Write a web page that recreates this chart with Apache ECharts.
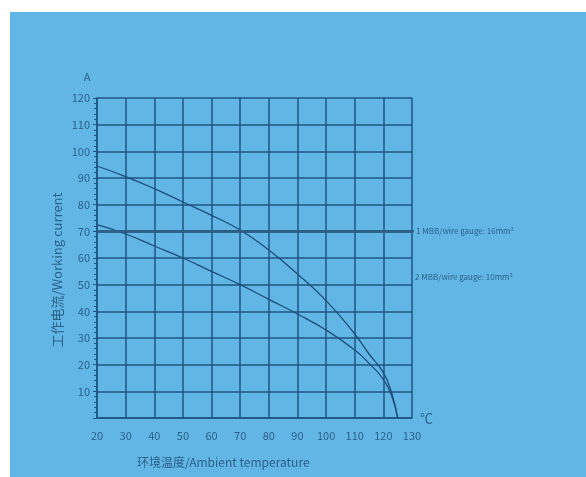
<!DOCTYPE html>
<html><head><meta charset="utf-8">
<script src="https://cdn.jsdelivr.net/npm/echarts@6/dist/echarts.min.js"></script>
<style>html,body{margin:0;padding:0;background:#fff}#c{width:586px;height:477px}</style>
</head><body><div id="c"></div>
<script>
// Data
var tempUpper = [20, 30, 40, 50, 60, 70, 80, 90, 100, 110, 115, 120, 123, 125];
var currUpper = [94.5, 90.5, 86, 81, 76, 70.5, 63, 54, 44, 31.5, 24, 17, 9, 0];
var tempLower = [20, 30, 40, 50, 60, 70, 80, 90, 100, 110, 115, 120, 123, 125];
var currLower = [72.5, 69, 64.5, 60, 55, 50, 44.5, 39, 33, 25.5, 20.5, 14.5, 8, 0];
var refTemps = [20, 132.5];
var refCurrent16 = 70;
var refTemps10 = [130, 132.5];
var refCurrent10 = 53;
var label16 = '1 MBB/wire gauge: 16mm²';
var label10 = '2 MBB/wire gauge: 10mm²';
var xName = '环境温度/Ambient temperature';
var yName = '工作电流/Working current';

function pairs(xs, ys) { return xs.map(function (x, i) { return [x, ys[i]]; }); }

var gridColor = '#1f5480';
var textColor = '#2b5f86';
var chart = echarts.init(document.getElementById('c'), null, {renderer: 'canvas'});
chart.setOption({
  backgroundColor: '#ffffff',
  animation: false,
  graphic: [
    {type: 'rect', left: 10, top: 12, shape: {width: 576, height: 465}, style: {fill: '#62b6e6'}, z: -10},
    {type: 'text', left: 137, top: 456, style: {text: xName, fill: textColor, font: '12px "Noto Sans CJK SC"'}},
    {type: 'text', x: 57, y: 270, rotation: Math.PI / 2, style: {text: yName, fill: textColor, font: '13px "Noto Sans CJK SC"', align: 'center', verticalAlign: 'middle'}}
  ],
  grid: {left: 97, top: 98, right: 174, bottom: 59, containLabel: false},
  xAxis: {
    type: 'value', min: 20, max: 130, interval: 10,
    name: '℃', nameLocation: 'end', nameGap: 8,
    nameTextStyle: {color: textColor, fontSize: 13, fontFamily: 'Noto Sans CJK SC'},
    axisLine: {show: true, lineStyle: {color: gridColor, width: 1.5}},
    axisTick: {show: false},
    axisLabel: {color: textColor, fontSize: 11, margin: 12, fontFamily: 'Noto Sans CJK SC'},
    splitLine: {show: true, lineStyle: {color: gridColor, width: 1.5}}
  },
  yAxis: {
    type: 'value', min: 0, max: 120, interval: 10,
    name: 'A', nameLocation: 'end', nameGap: 16,
    nameTextStyle: {color: textColor, fontSize: 11, fontFamily: 'Noto Sans CJK SC', padding: [0, 20, 0, 0]},
    axisLine: {show: true, lineStyle: {color: gridColor, width: 1.5}},
    axisTick: {show: true, length: 4, lineStyle: {color: gridColor}},
    minorTick: {show: true, splitNumber: 5, length: 3, lineStyle: {color: gridColor}},
    axisLabel: {color: textColor, fontSize: 11, margin: 7, fontFamily: 'Noto Sans CJK SC',
      formatter: function (v) { return v === 0 ? '' : v; }},
    splitLine: {show: true, lineStyle: {color: gridColor, width: 1.5}}
  },
  series: [
    {type: 'line', data: pairs(tempUpper, currUpper), smooth: 0.5, symbol: 'none',
      lineStyle: {color: '#1d4d78', width: 1.3}},
    {type: 'line', data: pairs(tempLower, currLower), smooth: 0.5, symbol: 'none',
      lineStyle: {color: '#1d4d78', width: 1.3}},
    {type: 'line', data: refTemps.map(function (x) { return [x, refCurrent16]; }), symbol: 'none', clip: false,
      lineStyle: {color: '#2f6088', width: 2.5},
      endLabel: {show: true, formatter: label16, color: textColor, fontSize: 8, distance: 2, fontFamily: 'Noto Sans CJK SC'}},
    {type: 'line', data: refTemps10.map(function (x) { return [x, refCurrent10]; }), symbol: 'none', clip: false,
      lineStyle: {color: '#3b6f96', width: 1},
      endLabel: {show: true, formatter: label10, color: textColor, fontSize: 8, distance: 2, fontFamily: 'Noto Sans CJK SC'}}
  ]
});
</script></body></html>
